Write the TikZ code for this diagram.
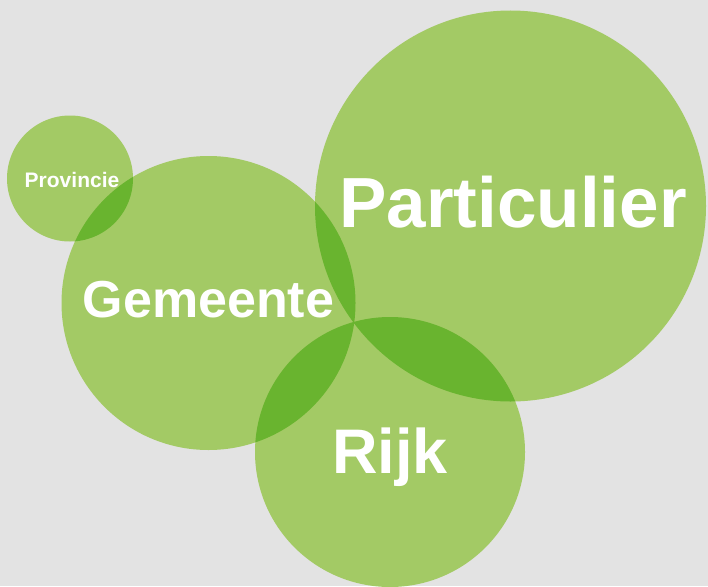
\documentclass[tikz,border=0pt]{standalone}
\usepackage{fontspec}
\setmainfont{Liberation Sans}
\definecolor{bggray}{HTML}{E3E3E3}
\definecolor{leaf}{HTML}{A3CA65}
\definecolor{leafdark}{HTML}{69B42F}
% the four circles (1pt = 1 pixel of the reference)
\newcommand{\provcirc}{(70,178.5) circle[radius=63]}
\newcommand{\gemcirc}{(208.5,303) circle[radius=147]}
\newcommand{\partcirc}{(510.5,206) circle[radius=195.5]}
\newcommand{\rijkcirc}{(390,452) circle[radius=135]}
\begin{document}
\begin{tikzpicture}[x=1pt, y=-1pt,
		label/.style={text=white, font=\bfseries, inner sep=0pt, anchor=base}]
	\clip (0,0) rectangle (708,586);
	\fill[bggray] (0,0) rectangle (708,586);
	\fill[leaf] \provcirc \gemcirc \partcirc \rijkcirc;
	% overlaps
	\begin{scope}
		\clip \gemcirc;
		\fill[leafdark] \provcirc \partcirc \rijkcirc;
	\end{scope}
	\begin{scope}
		\clip \partcirc;
		\fill[leafdark] \rijkcirc;
	\end{scope}
	\node[label, font=\bfseries\fontsize{21}{21}\selectfont] (prov) at (72,187) {Provincie};
	\node[label, font=\bfseries\fontsize{52}{52}\selectfont] (gem) at (208.5,317) {Gemeente};
	\node[label, font=\bfseries\fontsize{71}{71}\selectfont] (part) at (513,227) {Particulier};
	\node[label, font=\bfseries\fontsize{63}{63}\selectfont] (rijk) at (390,473) {Rijk};
\end{tikzpicture}
\end{document}
